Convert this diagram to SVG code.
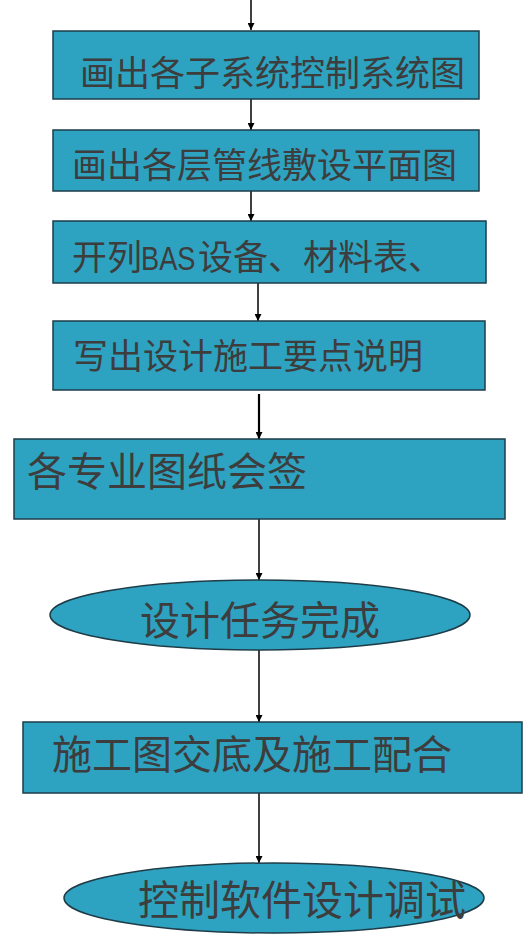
<svg xmlns="http://www.w3.org/2000/svg" width="528" height="949" viewBox="0 0 528 949">
<style>
.n{fill:#2EA3C1;stroke:#1d3c48;stroke-width:1.5}
.t{font-family:"Noto Sans CJK SC","Noto Sans",sans-serif;fill:#3d3d3d}
.c{stroke:#000;stroke-width:1.5;fill:none;marker-end:url(#ah)}
</style>
<defs>
<marker id="ah" viewBox="0 0 10 10" refX="10" refY="5" markerWidth="7" markerHeight="7" markerUnits="userSpaceOnUse" orient="auto">
<path d="M0,0 L10,5 L0,10 z" fill="#000"/>
</marker>
</defs>
<rect width="528" height="949" fill="#fff"/>
<g id="connectors">
<line class="c" x1="251" y1="0" x2="251" y2="30"/>
<line class="c" x1="251" y1="99" x2="251" y2="130"/>
<line class="c" x1="251" y1="191" x2="251" y2="221"/>
<line class="c" x1="258" y1="283" x2="258" y2="321"/>
<line class="c" x1="259" y1="394" x2="259" y2="439" style="stroke-width:2.2"/>
<line class="c" x1="259" y1="518" x2="259" y2="580"/>
<line class="c" x1="259" y1="650" x2="259" y2="722"/>
<line class="c" x1="259" y1="793" x2="259" y2="863"/>
</g>
<g id="node1">
<rect class="n" x="53" y="31" width="426" height="68"/>
<text class="t" x="80" y="86" font-size="35">画出各子系统控制系统图</text>
</g>
<g id="node2">
<rect class="n" x="53" y="130" width="426" height="61"/>
<text class="t" x="72" y="178" font-size="35">画出各层管线敷设平面图</text>
</g>
<g id="node3">
<rect class="n" x="53" y="221" width="433" height="62"/>
<text class="t" x="72" y="270" font-size="35">开列</text>
<text class="t" transform="translate(141,270) scale(0.8,1)" font-family="'Liberation Sans',sans-serif" font-size="34" style="font-family:'Liberation Sans',sans-serif">BAS</text>
<text class="t" x="198" y="270" font-size="35">设备、材料表、</text>
</g>
<g id="node4">
<rect class="n" x="53" y="321" width="432" height="69"/>
<text class="t" x="73" y="369" font-size="35">写出设计施工要点说明</text>
</g>
<g id="node5">
<rect class="n" x="14" y="439" width="491" height="80"/>
<text class="t" x="27" y="486" font-size="40">各专业图纸会签</text>
</g>
<g id="node6">
<ellipse class="n" cx="260" cy="615" rx="210" ry="35"/>
<text class="t" x="140" y="635" font-size="40">设计任务完成</text>
</g>
<g id="node7">
<rect class="n" x="23" y="722" width="499" height="71"/>
<text class="t" x="52" y="769" font-size="40">施工图交底及施工配合</text>
</g>
<g id="node8">
<ellipse class="n" cx="274" cy="898" rx="210" ry="35"/>
<text class="t" x="138" y="915" font-size="41">控制软件设计调试</text>
</g>
</svg>
